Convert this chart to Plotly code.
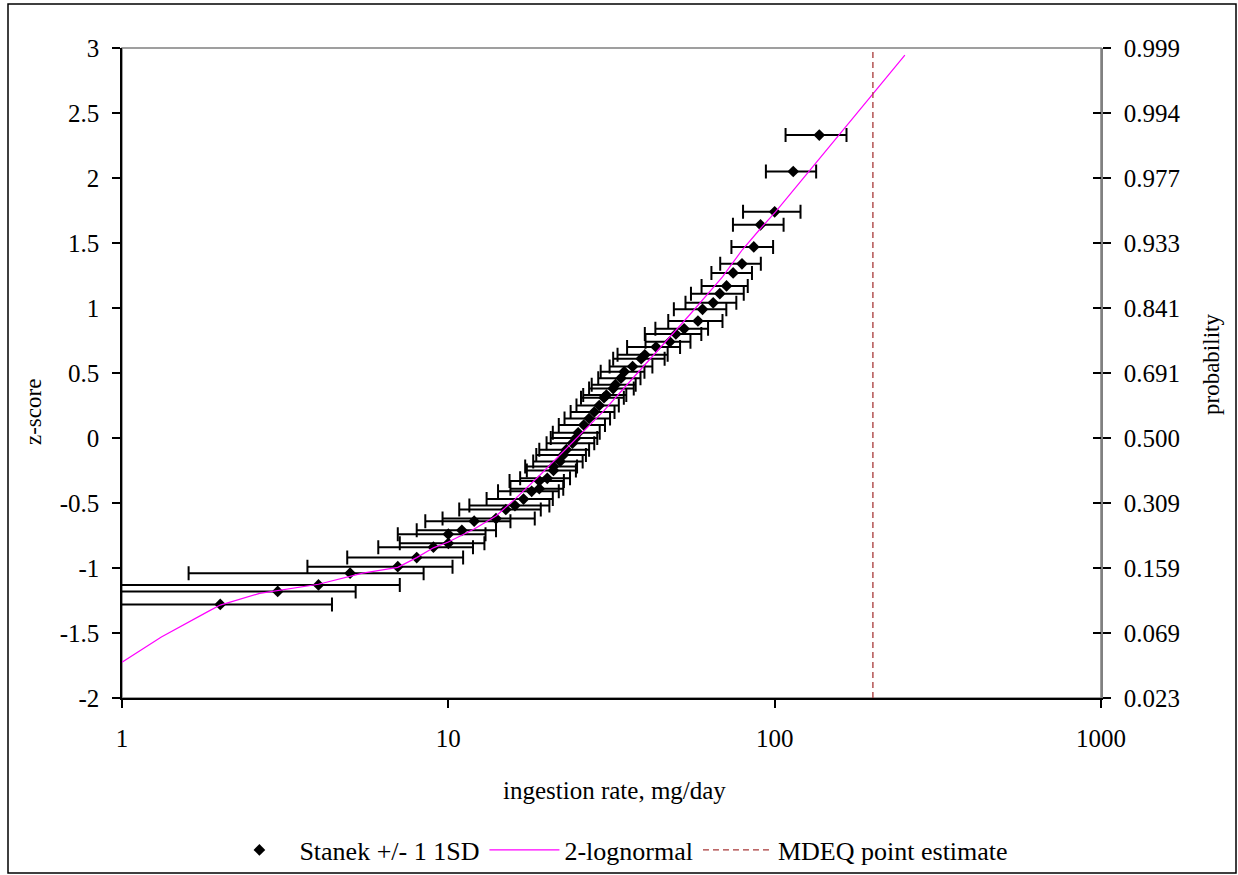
import plotly.graph_objects as go

# ---------------- data ----------------
# Stanek data: ingestion rate (mg/day), z-score, +/- 1 SD
stanek_x = [2.0, 3.0, 4.0, 5.0, 7.0, 8.0, 9.0, 10.0, 10.0, 11.0, 12.0,
            14.0, 15.0, 16.0, 17.0, 18.0, 19.0, 19.0, 20.1, 21.0, 21.0,
            22.0, 22.5, 23.0, 24.0, 24.6, 25.0, 26.0, 27.0, 28.0, 29.0,
            30.0, 30.5, 32.0, 32.5, 33.8, 34.6, 36.7, 39.0, 40.0, 43.3,
            47.7, 49.8, 52.8, 58.2, 60.1, 64.8, 67.9, 71.2, 74.6, 79.4,
            86.3, 90.5, 100.0, 114.0, 137.0]
stanek_z = [-1.28, -1.18, -1.13, -1.04, -0.99, -0.92, -0.84, -0.81, -0.74, -0.71, -0.64,
            -0.62, -0.55, -0.52, -0.47, -0.41, -0.39, -0.33, -0.31, -0.25, -0.22,
            -0.18, -0.13, -0.09, -0.04, 0.0, 0.04, 0.10, 0.15, 0.20, 0.25,
            0.31, 0.33, 0.38, 0.41, 0.46, 0.51, 0.55, 0.61, 0.64, 0.70,
            0.74, 0.80, 0.84, 0.90, 0.99, 1.04, 1.11, 1.17, 1.27, 1.34,
            1.47, 1.64, 1.74, 2.05, 2.33]
stanek_sd = [2.4, 2.2, 3.1, 3.4, 3.3, 3.1, 2.9, 2.9, 3.0, 3.0, 3.5,
             4.4, 4.2, 4.4, 3.9, 3.8, 3.5, 3.6, 3.5, 3.6, 3.8,
             3.8, 3.9, 4.0, 4.0, 4.0, 4.1, 4.2, 4.3, 4.3, 4.3,
             4.5, 4.6, 5.0, 5.0, 5.0, 5.3, 5.5, 7.0, 7.0, 8.0,
             7.5, 9.8, 9.7, 11.0, 11.0, 11.5, 12.5, 11.5, 10.6, 11.3,
             12.6, 16.0, 20.0, 20.0, 29.0]

# 2-lognormal fitted curve
lognorm_x = [1.0, 1.32, 1.85, 2.0, 2.64, 3.0, 4.0, 5.47, 7.0, 8.0, 9.0, 10.0,
             12.0, 14.0, 16.0, 19.0, 22.0, 24.5, 30.0, 35.0, 44.8, 55.0,
             69.2, 79.7, 89.7, 100.6, 128.3, 154.2, 200.0, 250.6]
lognorm_z = [-1.725, -1.53, -1.33, -1.285, -1.195, -1.175, -1.125, -1.04, -0.995, -0.92, -0.845, -0.80,
             -0.70, -0.60, -0.47, -0.29, -0.13, -0.015, 0.21, 0.40, 0.70, 0.95,
             1.24, 1.45, 1.60, 1.74, 2.06, 2.305, 2.65, 2.946]

# MDEQ point estimate
mdeq_x = [200, 200]
mdeq_z = [-2, 3]

# axis ticks
z_ticks = [-2, -1.5, -1, -0.5, 0, 0.5, 1, 1.5, 2, 2.5, 3]
z_labels = ["-2", "-1.5", "-1", "-0.5", "0", "0.5", "1", "1.5", "2", "2.5", "3"]
p_labels = ["0.023", "0.069", "0.159", "0.309", "0.500", "0.691", "0.841",
            "0.933", "0.977", "0.994", "0.999"]
x_ticks = [1, 10, 100, 1000]
x_labels = ["1", "10", "100", "1000"]

FONT = "Liberation Serif, Times New Roman, serif"
FS = 25

fig = go.Figure()

fig.add_trace(go.Scatter(
    x=stanek_x, y=stanek_z, mode="markers", name="Stanek +/- 1 1SD",
    marker=dict(symbol="diamond", size=9, color="black"),
    error_x=dict(type="data", array=stanek_sd, symmetric=True,
                 color="black", thickness=2, width=7),
))
fig.add_trace(go.Scatter(
    x=lognorm_x, y=lognorm_z, mode="lines", name="2-lognormal",
    line=dict(color="#ff00ff", width=1.2),
))
fig.add_trace(go.Scatter(
    x=mdeq_x, y=mdeq_z, mode="lines", name="MDEQ point estimate",
    line=dict(color="#a83838", width=1.3, dash="6px,4px"),
))
# invisible anchors for the secondary (right) axes
fig.add_trace(go.Scatter(x=[1], y=[0], yaxis="y3", mode="markers",
                         marker=dict(opacity=0), showlegend=False, hoverinfo="skip"))
fig.add_trace(go.Scatter(x=[1], y=[0], yaxis="y2", mode="markers",
                         marker=dict(opacity=0), showlegend=False, hoverinfo="skip"))

fig.update_layout(
    width=1238, height=875,
    margin=dict(l=122, r=137, t=48, b=177),
    paper_bgcolor="white", plot_bgcolor="white",
    font=dict(family=FONT, size=FS, color="black"),
    showlegend=True,
    legend=dict(orientation="h", x=0.505, xanchor="center",
                yref="container", y=(875 - 850) / 875, yanchor="middle",
                font=dict(family=FONT, size=26, color="black"),
                bgcolor="rgba(0,0,0,0)", itemwidth=70, tracegroupgap=0),
    xaxis=dict(type="log", range=[0, 3], tickvals=x_ticks, ticktext=x_labels,
               showgrid=False, zeroline=False, showline=True, linecolor="black", linewidth=1.5,
               ticks="outside", ticklen=8, tickcolor="black", tickwidth=1.5,
               ticklabelstandoff=9, tickfont=dict(family=FONT, size=FS)),
    yaxis=dict(range=[-2, 3], tickvals=z_ticks, ticktext=z_labels,
               showgrid=False, zeroline=False, showline=True, linecolor="black", linewidth=1.5,
               ticks="outside", ticklen=8, tickcolor="black", tickwidth=1.5,
               ticklabelstandoff=8, tickfont=dict(family=FONT, size=FS)),
    yaxis2=dict(range=[-2, 3], overlaying="y", side="right", anchor="x",
                tickvals=z_ticks, ticktext=p_labels,
                showgrid=False, zeroline=False, showline=True, linecolor="#808080", linewidth=1.5,
                ticks="outside", ticklen=8, tickcolor="black", tickwidth=2,
                ticklabelstandoff=8, tickfont=dict(family=FONT, size=FS)),
    yaxis3=dict(range=[-2, 3], overlaying="y", side="right", anchor="x",
                tickvals=z_ticks, showticklabels=False,
                showgrid=False, zeroline=False, showline=False,
                ticks="inside", ticklen=8, tickcolor="black", tickwidth=2),
    shapes=[
        dict(type="rect", xref="paper", yref="paper", x0=0, x1=1, y0=0, y1=1,
             line=dict(color="#808080", width=1.5), layer="below"),
        dict(type="rect", xref="paper", yref="paper",
             x0=(8 - 122) / 979, x1=(1236 - 122) / 979,
             y0=(698 - 873) / 650, y1=(698 - 4) / 650,
             line=dict(color="black", width=1.5), layer="below"),
    ],
    annotations=[
        dict(text="z-score", xref="paper", yref="paper", x=(33 - 122) / 979, y=(698 - 412) / 650,
             textangle=-90, showarrow=False, xanchor="center", yanchor="middle",
             font=dict(family=FONT, size=23)),
        dict(text="probability", xref="paper", yref="paper", x=(1212 - 122) / 979, y=(698 - 365) / 650,
             textangle=-90, showarrow=False, xanchor="center", yanchor="middle",
             font=dict(family=FONT, size=23)),
        dict(text="ingestion rate, mg/day", xref="paper", yref="paper", x=(614 - 122) / 979,
             y=(698 - 790) / 650, showarrow=False, xanchor="center", yanchor="middle",
             font=dict(family=FONT, size=FS)),
    ],
)

fig.write_html(
    "out.html",
    config={"displayModeBar": False},
    post_script="document.body.style.margin='0px';document.body.style.overflow='hidden';",
)
